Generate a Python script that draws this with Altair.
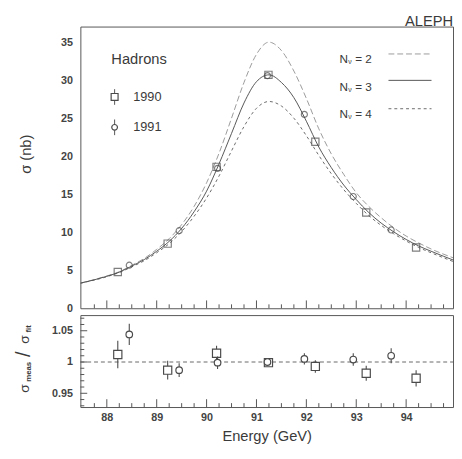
import altair as alt
import pandas as pd

# ---------------- data ----------------
curve_energy = [87.47, 88.0, 88.25, 88.5, 88.75, 89.0, 89.25, 89.5, 89.75, 90.0,
                90.25, 90.5, 90.75, 91.0, 91.25, 91.5, 91.75, 92.0, 92.25, 92.5,
                92.75, 93.0, 93.25, 93.5, 93.75, 94.0, 94.25, 94.5, 95.0]
sigma_nu2 = [3.3, 4.25, 4.8, 5.65, 6.55, 7.75, 9.15, 11.0, 13.4, 16.5,
             20.4, 25.0, 29.7, 33.4, 35.0, 33.9, 31.2, 27.6, 23.6, 20.3,
             17.6, 15.2, 13.4, 11.9, 10.6, 9.5, 8.6, 7.8, 6.5]
sigma_nu3 = [3.3, 4.2, 4.75, 5.55, 6.4, 7.5, 8.8, 10.5, 12.7, 15.4,
             19.0, 23.0, 27.0, 29.8, 30.7, 29.7, 27.7, 24.6, 21.2, 18.5,
             16.2, 14.3, 12.6, 11.2, 10.05, 9.05, 8.2, 7.5, 6.2]
sigma_nu4 = [3.3, 4.15, 4.7, 5.45, 6.25, 7.3, 8.5, 10.1, 12.1, 14.5,
             17.4, 20.7, 23.9, 26.3, 27.2, 26.6, 25.0, 22.7, 20.1, 17.7,
             15.6, 13.8, 12.2, 10.9, 9.8, 8.85, 8.0, 7.3, 6.0]

e1990 = [88.22, 89.22, 90.20, 91.24, 92.18, 93.20, 94.20]
s1990 = [4.76, 8.5, 18.6, 30.7, 21.9, 12.6, 8.0]
r1990 = [1.012, 0.987, 1.014, 0.999, 0.993, 0.982, 0.974]
re1990 = [0.022, 0.015, 0.012, 0.003, 0.010, 0.012, 0.013]

e1991 = [88.45, 89.45, 90.22, 91.22, 91.96, 92.94, 93.70]
s1991 = [5.66, 10.2, 18.4, 30.6, 25.5, 14.7, 10.3]
r1991 = [1.044, 0.987, 0.999, 1.000, 1.005, 1.004, 1.010]
re1991 = [0.017, 0.011, 0.010, 0.003, 0.009, 0.010, 0.012]

x_major = [88, 89, 90, 91, 92, 93, 94]
x_minor = [87.75, 88.25, 88.5, 88.75, 89.25, 89.5, 89.75, 90.25, 90.5, 90.75,
           91.25, 91.5, 91.75, 92.25, 92.5, 92.75, 93.25, 93.5, 93.75,
           94.25, 94.5, 94.75]
y_top_labels = [0, 5, 10, 15, 20, 25, 30, 35]
r_major = [0.95, 1.0, 1.05]
r_minor = [0.93, 0.94, 0.96, 0.97, 0.98, 0.99, 1.01, 1.02, 1.03, 1.04, 1.06, 1.07]

# ---------------- style ----------------
FONT = "Liberation Sans"
TXT = "#3a3a3a"
W = 381
H_TOP = 288
H_BOT = 94
XDOM = [87.47, 94.94]
YDOM = [0, 37.05]
RDOM = [0.928, 1.075]

C2, C3, C4 = "#9a9a9a", "#555555", "#6a6a6a"

curves = pd.DataFrame({"E": curve_energy, "n2": sigma_nu2, "n3": sigma_nu3, "n4": sigma_nu4})
d90 = pd.DataFrame({"E": e1990, "s": s1990, "r": r1990, "re": re1990})
d91 = pd.DataFrame({"E": e1991, "s": s1991, "r": r1991, "re": re1991})

xs_top = alt.Scale(domain=XDOM, nice=False, zero=False)
ys_top = alt.Scale(domain=YDOM, nice=False, zero=False)
ys_bot = alt.Scale(domain=RDOM, nice=False, zero=False)

y_top_axis = alt.Axis(values=y_top_labels, ticks=False, domain=False, grid=False,
                      labelPadding=8, title="σ (nb)", titleFont=FONT, titleFontSize=15,
                      titleFontWeight="normal", titleColor=TXT, titleX=-56, titleY=130,
                      titleAngle=270, titleAlign="center", titleBaseline="middle")
y_bot_axis = alt.Axis(values=r_major, format="~g", ticks=False, domain=False, grid=False,
                      labelPadding=8, title=None)
x_bot_axis = alt.Axis(values=x_major, format="d", ticks=False, domain=False, grid=False,
                      labelPadding=5, title="Energy (GeV)", titleFont=FONT,
                      titleFontSize=15, titleFontWeight="normal", titleColor=TXT,
                      titlePadding=6)


def txt(s, x, y, size, align="left", angle=0, weight="normal"):
    return alt.Chart(pd.DataFrame({"t": [s]})).mark_text(
        font=FONT, fontSize=size, color=TXT, align=align, baseline="middle",
        angle=angle, fontWeight=weight
    ).encode(x=alt.value(x), y=alt.value(y), text="t:N")


def curve(col, dash, color, width):
    kw = dict(color=color, strokeWidth=width, interpolate="monotone", clip=True)
    if dash:
        kw["strokeDash"] = dash
    return alt.Chart(curves).mark_line(**kw).encode(
        x=alt.X("E:Q", scale=xs_top, axis=None),
        y=alt.Y(f"{col}:Q", scale=ys_top, axis=y_top_axis),
    )


top_layers = [
    curve("n2", [6, 3], C2, 1.0),
    curve("n4", [3, 3], C4, 1.0),
    curve("n3", None, C3, 1.0),
    alt.Chart(d91).mark_point(shape="circle", size=38, filled=False, color="#4a4a4a",
                              strokeWidth=1.2).encode(
        x=alt.X("E:Q", scale=xs_top, axis=None),
        y=alt.Y("s:Q", scale=ys_top, axis=y_top_axis)),
    alt.Chart(d90).mark_point(shape="square", size=55, filled=False, color="#4a4a4a",
                              strokeWidth=1.2).encode(
        x=alt.X("E:Q", scale=xs_top, axis=None),
        y=alt.Y("s:Q", scale=ys_top, axis=y_top_axis)),
    # bottom-edge inward ticks
    alt.Chart(pd.DataFrame({"E": x_major})).mark_rule(color="#555", strokeWidth=1).encode(
        x=alt.X("E:Q", scale=xs_top, axis=None), y=alt.value(H_TOP - 8), y2=alt.value(H_TOP)),
    alt.Chart(pd.DataFrame({"E": x_minor})).mark_rule(color="#555", strokeWidth=1).encode(
        x=alt.X("E:Q", scale=xs_top, axis=None), y=alt.value(H_TOP - 4), y2=alt.value(H_TOP)),
    # texts / legends
    txt("ALEPH", 381, -6, 15, align="right"),
    txt("Hadrons", 60, 33, 15, align="center"),
    txt("1990", 54, 72, 13),
    txt("1991", 54, 103, 13),
]

# year legend markers
leg_years = pd.DataFrame({"k": [0]})
for yy, shp, sz in [(72, "square", 50), (103, "circle", 34)]:
    top_layers.append(alt.Chart(leg_years).mark_rule(color="#555", strokeWidth=1).encode(
        x=alt.value(35), y=alt.value(yy - 8), y2=alt.value(yy + 8)))
    top_layers.append(alt.Chart(leg_years).mark_point(shape=shp, size=sz, filled=True,
                                                      fill="white", stroke="#4a4a4a",
                                                      strokeWidth=1.2, opacity=1).encode(
        x=alt.value(35), y=alt.value(yy)))

# N_nu legend
for yy, ly, lbl, dash, col in [(33, 28, "= 2", [6, 3], C2),
                               (62, 55, "= 3", None, C3),
                               (89, 84, "= 4", [3, 3], C4)]:
    top_layers.append(txt("N", 265, yy, 12))
    top_layers.append(txt("ν", 274, yy + 3, 7))
    top_layers.append(txt(lbl, 281, yy, 12))
    kw = dict(color=col, strokeWidth=1.0)
    if dash:
        kw["strokeDash"] = dash
    top_layers.append(alt.Chart(leg_years).mark_rule(**kw).encode(
        x=alt.value(315), x2=alt.value(359), y=alt.value(ly)))

top = alt.layer(*top_layers).properties(width=W, height=H_TOP)

# ---------------- bottom panel ----------------
def xb(axis):
    return alt.X("E:Q", scale=xs_top, axis=axis)

bot_layers = [
    alt.Chart(pd.DataFrame({"r": [1.0]})).mark_rule(color="#666", strokeDash=[4, 3],
                                                    strokeWidth=1).encode(
        y=alt.Y("r:Q", scale=ys_bot, axis=y_bot_axis), x=alt.value(0), x2=alt.value(W)),
]
for df, shp, sz in [(d90, "square", 70), (d91, "circle", 45)]:
    bot_layers.append(alt.Chart(df).transform_calculate(
        lo="datum.r - datum.re", hi="datum.r + datum.re").mark_rule(
        color="#4a4a4a", strokeWidth=1.1).encode(
        x=xb(x_bot_axis), y=alt.Y("lo:Q", scale=ys_bot, axis=y_bot_axis), y2="hi:Q"))
    bot_layers.append(alt.Chart(df).mark_point(shape=shp, size=sz, filled=True, fill="white",
                                               stroke="#4a4a4a", strokeWidth=1.2,
                                               opacity=1).encode(
        x=xb(x_bot_axis), y=alt.Y("r:Q", scale=ys_bot, axis=y_bot_axis)))

bot_layers += [
    alt.Chart(pd.DataFrame({"E": x_major})).mark_rule(color="#555").encode(
        x=xb(x_bot_axis), y=alt.value(H_BOT - 8), y2=alt.value(H_BOT)),
    alt.Chart(pd.DataFrame({"E": x_minor})).mark_rule(color="#555").encode(
        x=xb(x_bot_axis), y=alt.value(H_BOT - 4), y2=alt.value(H_BOT)),
    alt.Chart(pd.DataFrame({"r": r_major})).mark_rule(color="#555").encode(
        y=alt.Y("r:Q", scale=ys_bot, axis=y_bot_axis), x=alt.value(0), x2=alt.value(7)),
    alt.Chart(pd.DataFrame({"r": r_minor})).mark_rule(color="#555").encode(
        y=alt.Y("r:Q", scale=ys_bot, axis=y_bot_axis), x=alt.value(0), x2=alt.value(4)),
    # ratio axis title pieces
    txt("σ", -57, 75, 14, align="center", angle=270),
    txt("meas", -52, 58, 8, align="center", angle=270, weight="bold"),
    txt("/", -57, 40, 20, align="center", angle=270),
    txt("σ", -57, 25, 14, align="center", angle=270),
    txt("fit", -52, 14, 8, align="center", angle=270, weight="bold"),
]

bot = alt.layer(*bot_layers).properties(width=W, height=H_BOT)

chart = alt.vconcat(top, bot, spacing=0).properties(
    padding={"left": 6, "top": 0, "right": 0, "bottom": 4}
).configure_axis(
    labelFont=FONT, labelFontSize=11, labelColor="#444", labelFontWeight="bold"
).configure_view(stroke="#555", strokeWidth=1).configure_concat(spacing=0)

chart.save("out.html", embed_options={"renderer": "svg", "actions": False})
